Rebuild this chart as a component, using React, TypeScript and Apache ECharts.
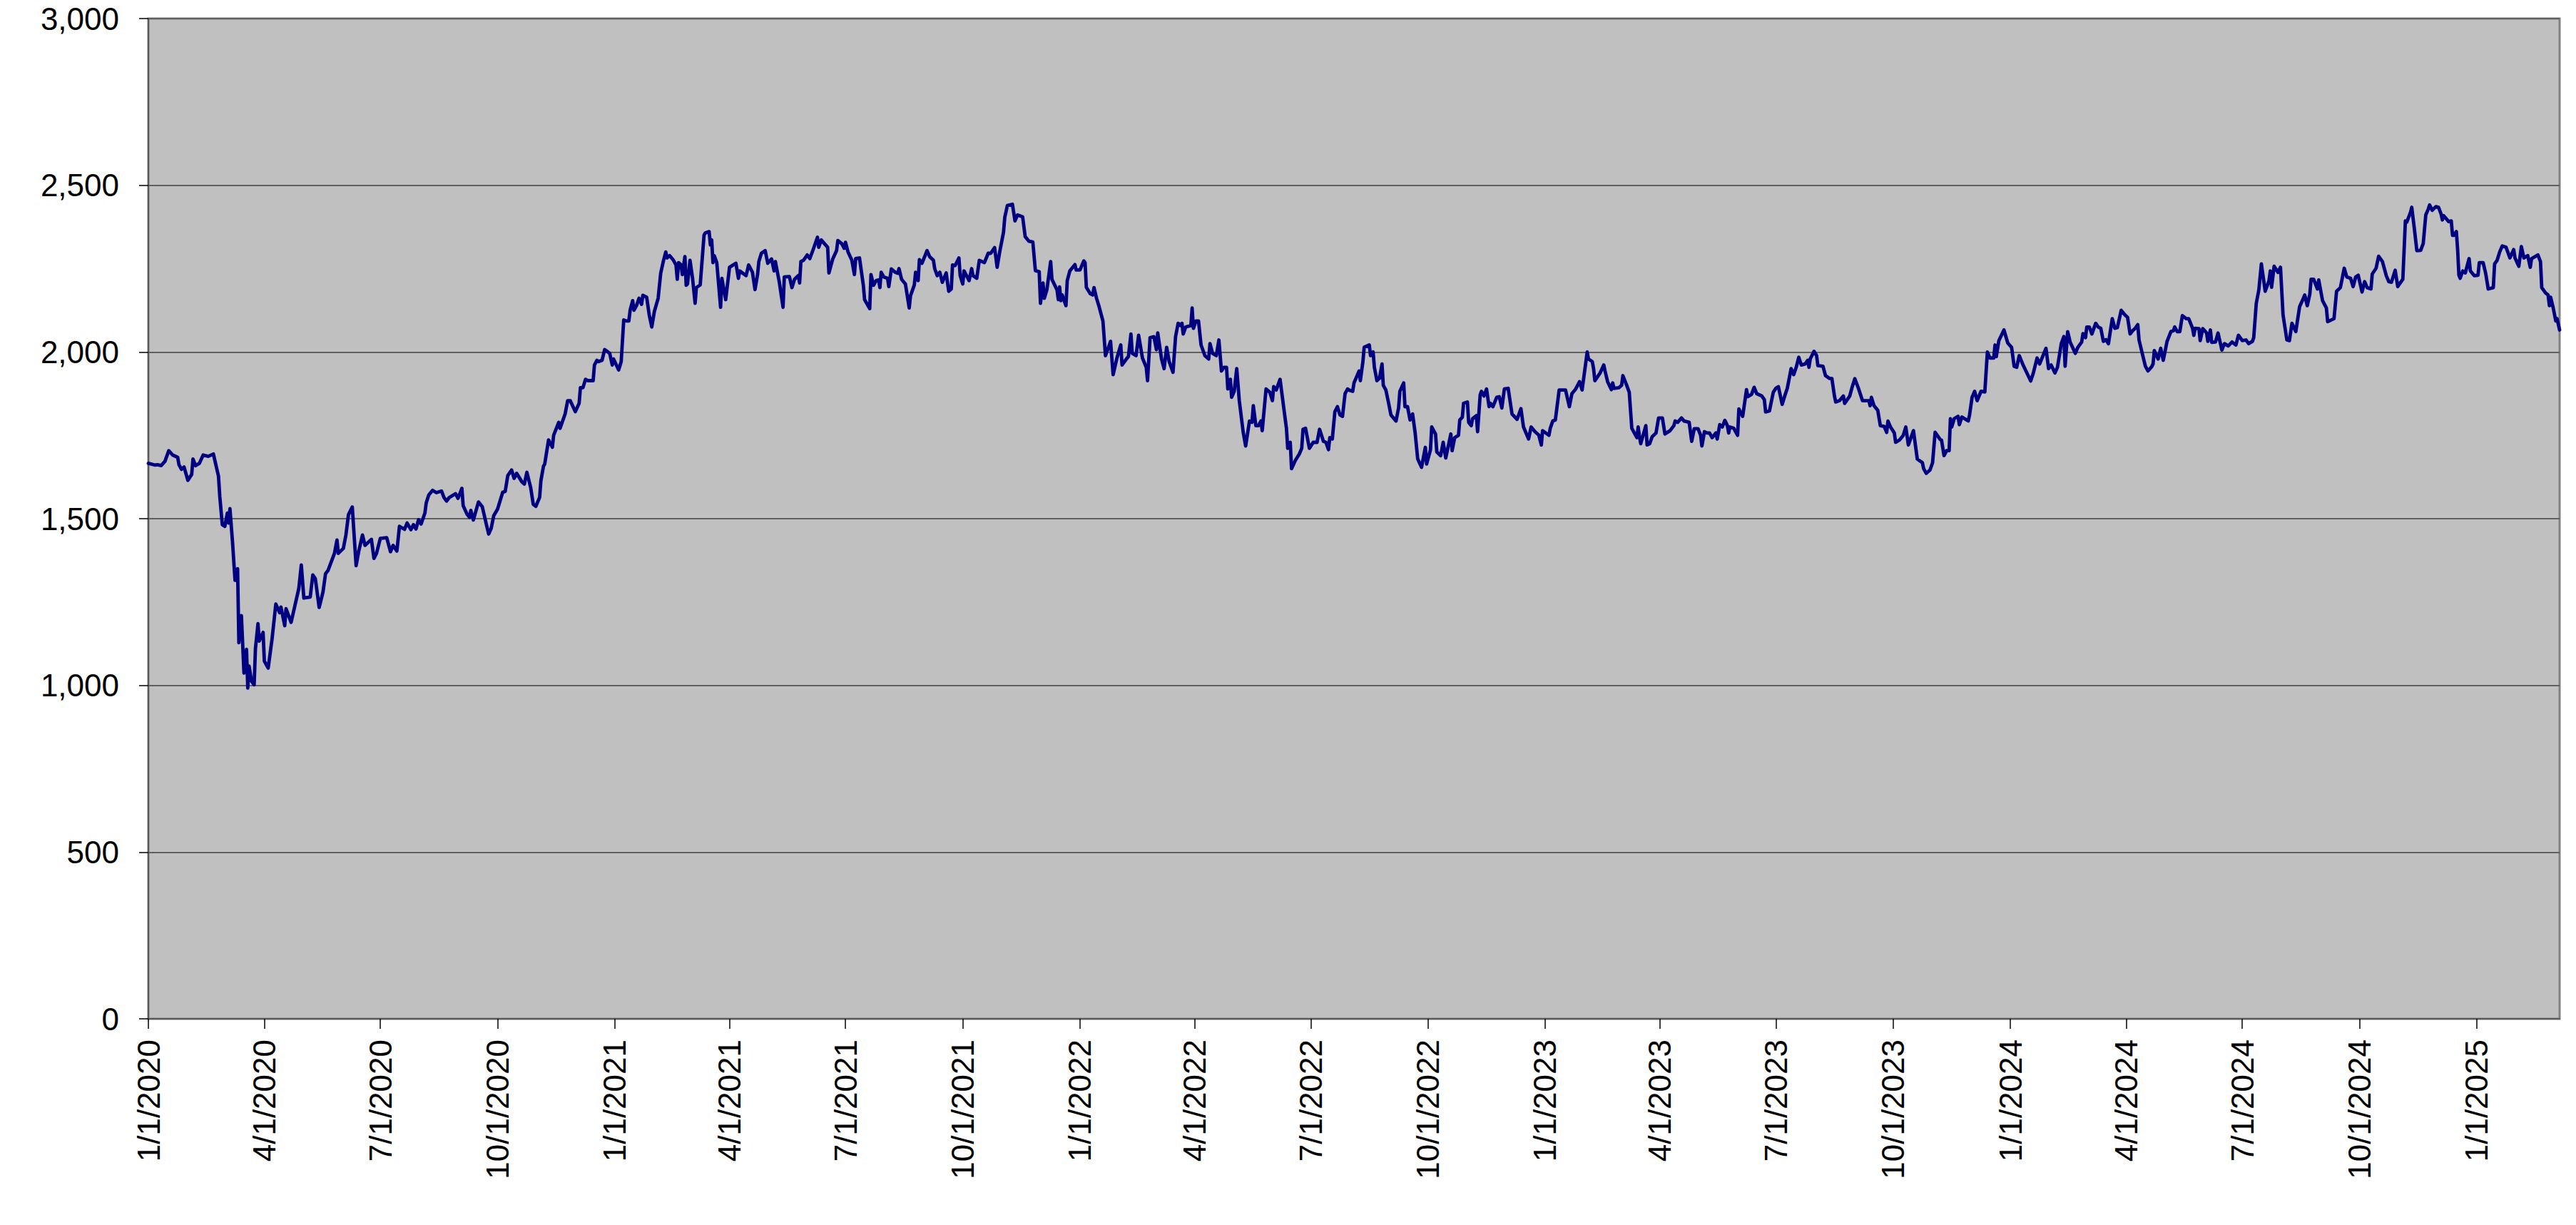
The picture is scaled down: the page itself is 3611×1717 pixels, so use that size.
import React, { useEffect, useRef } from "react";
import * as echarts from "echarts";

// Axis range: one category per calendar day, 1/1/2020 .. 3/7/2025
const START_YEAR = 2020;
const DAY_COUNT = 1893;

// Y axis ticks
const yTicks = [0, 500, 1000, 1500, 2000, 2500, 3000];

// Readings: [days since 1/1/2020, value]
const closesJan20ToAug20: [number, number][] = [
  [0,1666],[5,1661],[7,1662],[10,1659],[13,1672],[16,1704],[19,1691],[23,1684],[24,1662],[26,1648],
  [28,1655],[31,1615],[34,1633],[35,1679],[37,1659],[40,1666],[43,1691],[47,1687],[51,1694],[55,1628],
  [56,1568],[58,1482],[60,1477],[62,1517],[63,1487],[64,1530],[66,1431],[68,1315],[70,1350],[71,1128],
  [73,1209],[75,1037],[77,1108],[78,992],[79,1058],[81,1012],[83,1002],[84,1110],[86,1185],[87,1133],
  [90,1159],[91,1073],[94,1052],[97,1138],[100,1244],[103,1218],[104,1235],[107,1179],[108,1230],[112,1189],
  [118,1290],[120,1361],[122,1262],[127,1265],[129,1331],[131,1320],[134,1234],[137,1280],[139,1335],[141,1345],
  [146,1396],[148,1436],[149,1396],[153,1411],[155,1451],[157,1512],[160,1535],[163,1359],[165,1401],[168,1451],
  [170,1420],[175,1438],[177,1381],[179,1396],[182,1441],[187,1443],[190,1401],[192,1420],[195,1403],[197,1477],
  [201,1468],[203,1487],[206,1467],[208,1482],[210,1469],[212,1497],[214,1484],[217,1517],[218,1547],[220,1571],
  [223,1585],[226,1578],[230,1583],[232,1563],[234,1553],[236,1563],
];

const closesAug20ToApr21: [number, number][] = [
  [238,1568],[241,1575],[243,1561],[246,1591],[247,1539],[250,1514],[252,1504],[253,1525],[255,1496],[259,1550],
  [262,1536],[265,1486],[267,1454],[269,1471],[271,1509],[274,1529],[278,1579],[280,1582],[282,1629],[285,1646],
  [287,1621],[289,1636],[293,1611],[295,1604],[297,1639],[300,1593],[302,1543],[304,1537],[307,1564],[308,1614],
  [310,1657],[311,1664],[314,1736],[317,1714],[318,1750],[322,1789],[323,1771],[327,1814],[329,1854],[331,1854],
  [335,1821],[338,1846],[339,1893],[341,1893],[343,1918],[345,1914],[349,1914],[350,1961],[352,1975],[353,1971],
  [356,1975],[358,2007],[362,1996],[364,1961],[365,1979],[369,1946],[371,1971],[373,2096],[375,2093],[377,2093],
  [378,2125],[380,2154],[381,2125],[383,2139],[385,2161],[387,2143],[388,2170],[391,2164],[393,2111],[395,2075],
  [397,2121],[400,2161],[402,2236],[404,2271],[406,2300],[407,2282],[409,2289],[412,2275],[414,2261],[415,2218],
  [416,2268],[418,2261],[419,2232],[421,2286],[422,2200],[423,2204],[425,2275],[427,2221],[429,2146],[430,2193],
  [433,2201],[436,2350],[437,2357],[440,2361],[441,2321],[442,2336],[443,2268],[444,2289],[446,2268],[449,2134],
  [450,2221],[453,2157],[456,2254],[461,2266],[463,2221],[464,2243],[469,2229],[471,2261],
];

const closesApr21ToDec21: [number, number][] = [
  [474,2239],[476,2187],[478,2232],[479,2271],[481,2296],[484,2304],[486,2266],[489,2279],[491,2243],[492,2271],
  [495,2211],[498,2134],[499,2225],[503,2226],[505,2193],[507,2218],[510,2229],[511,2207],[512,2271],[514,2275],
  [517,2291],[519,2280],[522,2311],[525,2344],[526,2314],[528,2336],[533,2314],[534,2237],[537,2279],[540,2304],
  [541,2334],[544,2325],[546,2311],[547,2329],[549,2300],[552,2275],[554,2232],[555,2280],[558,2282],[561,2200],
  [562,2157],[566,2130],[567,2232],[569,2200],[571,2214],[573,2216],[574,2193],[575,2239],[577,2225],[580,2221],
  [581,2196],[583,2249],[586,2239],[588,2236],[589,2250],[591,2218],[594,2204],[597,2132],[598,2168],[601,2201],
  [602,2239],[604,2214],[605,2277],[607,2266],[611,2304],[613,2286],[616,2275],[617,2250],[619,2229],[621,2239],
  [623,2209],[626,2237],[628,2182],[630,2189],[631,2261],[633,2259],[636,2282],[637,2229],[639,2204],[640,2243],
  [642,2229],[644,2214],[646,2250],[647,2229],[650,2221],[652,2275],[656,2268],[659,2296],[661,2296],[664,2313],
  [666,2254],[668,2300],[671,2359],[672,2404],[674,2439],[678,2443],[680,2393],[682,2411],[686,2405],[688,2346],
  [691,2332],[694,2330],[696,2244],[699,2241],[700,2146],[702,2207],[703,2161],
];

const closesDec21ToJul22: [number, number][] = [
  [705,2186],[708,2271],[709,2218],[713,2186],[714,2157],[715,2195],[716,2154],[717,2171],[720,2139],[721,2214],
  [723,2243],[727,2262],[728,2246],[731,2246],[734,2273],[735,2268],[736,2194],[739,2175],[741,2171],[742,2193],
  [744,2161],[746,2136],[749,2093],[751,1989],[754,2021],[755,2032],[757,1932],[760,1982],[763,2021],[764,1961],
  [768,1982],[769,1986],[771,2054],[772,1996],[775,1989],[777,2050],[780,1982],[783,1954],[784,1914],[786,2043],
  [789,2046],[791,2007],[792,2057],[795,1979],[797,1950],[799,2014],[801,1971],[804,1939],[806,2046],[808,2086],
  [810,2079],[811,2086],[812,2054],[814,2075],[818,2079],[819,2132],[820,2071],[822,2093],[824,2093],[826,2021],
  [829,1989],[832,1979],[833,2025],[835,1996],[838,1989],[840,2036],[842,1943],[844,1954],[846,1954],[847,1889],
  [849,1918],[850,1864],[852,1882],[854,1950],[856,1854],[859,1761],[861,1718],[864,1793],[866,1789],[867,1839],
  [869,1779],[871,1779],[873,1793],[874,1764],[877,1889],[880,1879],[882,1854],[883,1896],[885,1886],[888,1918],
  [891,1829],[893,1771],[894,1711],[896,1729],[897,1650],[900,1675],[903,1693],[905,1711],[906,1768],[908,1771],
  [911,1711],[914,1729],[917,1729],[919,1768],[922,1732],[924,1729],[926,1707],[927,1743],[929,1739],[931,1821],
  [933,1836],[935,1811],[937,1807],[939,1875],[941,1889],
];

const closesJul22ToMar23: [number, number][] = [
  [942,1886],[945,1882],[946,1907],[948,1925],[950,1943],[951,1914],[953,1971],[954,2014],[958,2021],[959,1989],
  [961,2000],[962,1954],[964,1914],[966,1921],[968,1964],[969,1900],[971,1886],[973,1850],[975,1811],[979,1793],
  [981,1832],[982,1882],[985,1907],[986,1836],[988,1836],[990,1796],[992,1814],[994,1757],[996,1679],[999,1654],
  [1002,1714],[1003,1664],[1006,1707],[1007,1775],[1010,1754],[1011,1700],[1014,1689],[1016,1729],[1018,1682],[1022,1754],
  [1023,1704],[1025,1743],[1028,1750],[1029,1796],[1031,1804],[1032,1846],[1035,1850],[1036,1789],[1038,1779],[1039,1800],
  [1042,1809],[1043,1761],[1045,1871],[1046,1882],[1048,1868],[1050,1889],[1052,1836],[1053,1846],[1055,1836],[1058,1864],
  [1060,1866],[1062,1832],[1064,1889],[1067,1891],[1070,1814],[1074,1798],[1077,1830],[1079,1775],[1083,1739],[1085,1775],
  [1088,1761],[1091,1751],[1093,1721],[1094,1764],[1099,1750],[1100,1771],[1102,1793],[1104,1796],[1107,1886],[1112,1886],
  [1115,1836],[1117,1875],[1120,1889],[1123,1911],[1125,1886],[1129,2000],[1130,1979],[1133,1971],[1134,1950],[1135,1914],
  [1139,1936],[1142,1961],[1143,1943],[1145,1911],[1148,1887],[1149,1907],[1150,1891],[1154,1893],[1156,1900],[1157,1929],
  [1160,1900],[1162,1879],[1164,1771],[1168,1743],[1169,1775],[1170,1746],[1171,1725],[1175,1779],[1176,1721],
];

const closesMar23ToFeb24: [number, number][] = [
  [1178,1725],[1180,1746],[1183,1757],[1185,1802],[1188,1802],[1190,1754],[1194,1764],[1197,1779],[1198,1793],[1200,1789],
  [1203,1802],[1205,1793],[1209,1789],[1211,1732],[1213,1770],[1216,1770],[1218,1750],[1219,1718],[1221,1761],[1223,1757],
  [1225,1757],[1227,1743],[1230,1757],[1231,1739],[1233,1782],[1235,1775],[1237,1795],[1239,1779],[1240,1757],[1241,1775],
  [1244,1771],[1247,1750],[1248,1829],[1251,1807],[1254,1887],[1255,1866],[1258,1873],[1260,1894],[1262,1875],[1266,1868],
  [1268,1857],[1269,1820],[1272,1823],[1275,1879],[1277,1891],[1279,1896],[1282,1843],[1284,1868],[1286,1891],[1289,1950],
  [1291,1932],[1293,1954],[1295,1984],[1297,1961],[1300,1964],[1302,1975],[1303,1954],[1304,1979],[1307,2002],[1309,1989],
  [1310,1959],[1314,1957],[1316,1929],[1319,1921],[1321,1920],[1323,1868],[1324,1850],[1327,1854],[1330,1868],[1331,1846],
  [1335,1868],[1337,1896],[1339,1920],[1342,1889],[1345,1854],[1350,1854],[1351,1839],[1352,1864],[1354,1839],[1357,1825],
  [1359,1779],[1362,1777],[1364,1759],[1365,1793],[1367,1775],[1370,1757],[1371,1729],[1374,1736],[1377,1750],[1379,1775],
  [1381,1721],[1385,1764],[1388,1679],[1392,1668],[1393,1650],[1395,1636],[1398,1646],[1400,1668],[1402,1759],[1406,1737],
  [1407,1736],[1409,1689],[1411,1704],
];

const closesFeb24ToJul24: [number, number][] = [
  [1413,1704],[1414,1800],[1415,1775],[1417,1800],[1420,1807],[1421,1782],[1423,1805],[1428,1793],[1429,1811],[1431,1864],
  [1433,1882],[1435,1854],[1438,1882],[1441,1880],[1443,2000],[1445,1982],[1448,1982],[1449,2021],[1450,1986],[1452,2034],
  [1456,2066],[1459,2027],[1462,2014],[1464,1957],[1466,1954],[1468,1989],[1471,1961],[1474,1937],[1477,1913],[1479,1936],
  [1482,1982],[1484,1964],[1489,2011],[1491,1950],[1493,1961],[1496,1937],[1498,1954],[1501,2025],[1503,2046],[1504,1957],
  [1506,2061],[1508,2029],[1512,1996],[1514,2014],[1517,2030],[1518,2055],[1520,2043],[1521,2075],[1523,2075],[1525,2054],
  [1528,2086],[1530,2075],[1532,2071],[1534,2032],[1536,2037],[1538,2025],[1541,2100],[1543,2071],[1545,2073],[1548,2125],
  [1551,2111],[1553,2104],[1555,2054],[1557,2064],[1559,2071],[1561,2082],[1562,2036],[1564,2004],[1567,1957],[1569,1943],
  [1572,1956],[1573,1964],[1574,2004],[1577,1979],[1579,2011],[1581,1975],[1584,2032],[1587,2061],[1589,2064],[1590,2075],
  [1592,2061],[1594,2061],[1596,2109],[1599,2100],[1601,2100],[1604,2071],[1605,2050],[1606,2071],[1609,2070],[1610,2034],
  [1612,2070],[1615,2057],[1616,2032],[1618,2066],[1619,2029],[1622,2030],[1624,2057],[1627,2006],[1629,2025],[1632,2018],
  [1635,2030],[1638,2021],[1640,2050],[1643,2034],[1646,2036],
];

const closesJul24ToMar25: [number, number][] = [
  [1648,2025],[1651,2032],[1652,2043],[1654,2146],[1656,2186],[1658,2264],[1661,2182],[1664,2214],[1665,2243],[1666,2194],
  [1668,2257],[1671,2239],[1673,2254],[1675,2111],[1678,2036],[1680,2034],[1682,2086],[1685,2061],[1686,2086],[1688,2136],
  [1691,2161],[1692,2171],[1694,2139],[1696,2173],[1697,2218],[1699,2218],[1702,2189],[1703,2216],[1706,2154],[1709,2132],
  [1710,2091],[1715,2100],[1717,2182],[1720,2193],[1723,2251],[1725,2225],[1728,2221],[1730,2196],[1732,2225],[1734,2230],
  [1737,2180],[1739,2211],[1741,2193],[1744,2189],[1745,2234],[1748,2251],[1750,2287],[1753,2271],[1756,2229],[1758,2211],
  [1760,2209],[1763,2245],[1765,2196],[1769,2218],[1771,2393],[1772,2389],[1775,2418],[1776,2434],[1778,2371],[1780,2304],
  [1783,2305],[1785,2325],[1787,2411],[1789,2429],[1790,2441],[1792,2425],[1795,2436],[1797,2434],[1799,2414],[1800,2396],
  [1801,2409],[1805,2391],[1807,2393],[1808,2350],[1809,2350],[1811,2361],[1812,2307],[1813,2230],[1814,2221],[1816,2243],
  [1818,2237],[1821,2280],[1822,2243],[1825,2229],[1828,2230],[1829,2268],[1832,2268],[1834,2236],[1836,2189],[1840,2193],
  [1841,2264],[1843,2275],[1845,2300],[1847,2318],[1850,2314],[1853,2282],[1856,2307],[1857,2282],[1860,2257],[1862,2316],
  [1864,2282],[1867,2289],[1869,2254],[1870,2280],[1875,2291],[1877,2271],[1878,2193],[1881,2177],[1883,2171],[1884,2139],
  [1885,2164],[1887,2132],[1889,2093],[1890,2100],[1892,2066],
];

// Category labels (M/D/YYYY) built from the day range
const categories: string[] = [];
const quarterStart: boolean[] = [];
for (let i = 0; i < DAY_COUNT; i++) {
  const d = new Date(Date.UTC(START_YEAR, 0, 1 + i));
  const m = d.getUTCMonth() + 1;
  const day = d.getUTCDate();
  categories.push(`${m}/${day}/${d.getUTCFullYear()}`);
  quarterStart.push(day === 1 && (m === 1 || m === 4 || m === 7 || m === 10));
}

const allReadings = [
  ...closesJan20ToAug20,
  ...closesAug20ToApr21,
  ...closesApr21ToDec21,
  ...closesDec21ToJul22,
  ...closesJul22ToMar23,
  ...closesMar23ToFeb24,
  ...closesFeb24ToJul24,
  ...closesJul24ToMar25,
];

const seriesData: (number | null)[] = new Array(DAY_COUNT).fill(null);
for (const [d, v] of allReadings) seriesData[d] = v;

const FONT = "'Liberation Sans', Arial, Helvetica, sans-serif";

export default function App() {
  const ref = useRef<HTMLDivElement>(null);

  useEffect(() => {
    document.body.style.margin = "0";
    if (!ref.current) return;
    const chart = echarts.init(ref.current, undefined, { renderer: "svg" });
    const showQuarter = (index: number) => quarterStart[index];
    chart.setOption({
      animation: false,
      backgroundColor: "#ffffff",
      grid: {
        left: 208,
        right: 23,
        top: 26,
        bottom: 289,
        show: true,
        backgroundColor: "#C0C0C0",
        borderColor: "#808080",
        borderWidth: 3,
        outerBoundsMode: "none",
      },
      xAxis: {
        type: "category",
        data: categories,
        boundaryGap: false,
        axisLine: { show: true, lineStyle: { color: "#5a5a5a", width: 2 } },
        axisTick: {
          show: true,
          interval: showQuarter,
          length: 14,
          lineStyle: { color: "#000000", width: 1.5 },
        },
        axisLabel: {
          interval: showQuarter,
          rotate: 90,
          margin: 29,
          fontSize: 44,
          fontFamily: FONT,
          color: "#000000",
        },
        splitLine: { show: false },
      },
      yAxis: {
        type: "value",
        min: yTicks[0],
        max: yTicks[yTicks.length - 1],
        interval: 500,
        axisLine: { show: true, lineStyle: { color: "#5a5a5a", width: 2 } },
        axisTick: { show: true, length: 13, lineStyle: { color: "#000000", width: 1.5 } },
        axisLabel: {
          margin: 41,
          fontSize: 44,
          fontFamily: FONT,
          color: "#000000",
          formatter: (v: number) => v.toLocaleString("en-US"),
        },
        splitLine: { show: true, lineStyle: { color: "#606060", width: 2 } },
      },
      series: [
        {
          type: "line",
          data: seriesData,
          connectNulls: true,
          showSymbol: false,
          symbol: "none",
          silent: true,
          lineStyle: { color: "#000080", width: 4.8, join: "round", cap: "round" },
        },
      ],
    });
    return () => chart.dispose();
  }, []);

  return <div ref={ref} style={{ width: 3611, height: 1717 }} />;
}
